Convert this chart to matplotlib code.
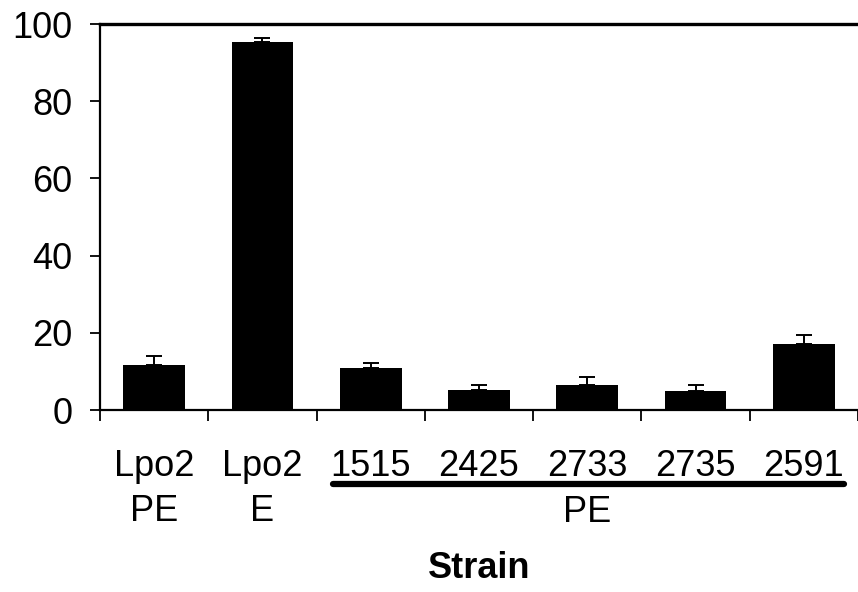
import matplotlib
matplotlib.use("Agg")
import matplotlib.pyplot as plt
import numpy as np
from matplotlib.lines import Line2D

strains = ["Lpo2\nPE", "Lpo2\nE", "1515", "2425", "2733", "2735", "2591"]
values = [11.6, 95.4, 11.0, 5.2, 6.5, 5.0, 17.2]
errors = [2.4, 0.9, 1.3, 1.3, 2.0, 1.4, 2.2]
group_label = "PE"
xlabel = "Strain"
yticks = [0, 20, 40, 60, 80, 100]

plt.rcParams['font.family'] = ['Liberation Sans', 'DejaVu Sans']

fig = plt.figure(figsize=(8.58, 5.92), dpi=100)
ax = fig.add_axes([100/858, 182/592, 758/858, 386/592])

x = np.arange(len(strains))
ax.bar(x, values, width=0.57, color="black", zorder=2)
ax.errorbar(x, values, yerr=[np.zeros(len(errors)), errors], fmt="none",
            ecolor="black", elinewidth=1.4, capsize=5.5, capthick=1.4, zorder=3)

ax.set_ylim(0, 100)
ax.set_xlim(-0.5, -0.5 + 758/109)
ax.set_yticks(yticks)
ax.set_xticks(x)
ax.set_xticklabels(strains, fontsize=26, linespacing=1.36)
ax.set_xticks(np.arange(-0.5, len(strains), 1.0), minor=True)
ax.tick_params(axis="x", which="major", length=0, pad=28)
ax.tick_params(axis="x", which="minor", length=8, width=1.3, direction="out")
ax.tick_params(axis="y", labelsize=26, length=7, width=1.3, direction="out", pad=13)

for side in ["left", "bottom"]:
    ax.spines[side].set_linewidth(1.6)
ax.spines["top"].set_linewidth(2.4)
ax.spines["right"].set_visible(False)

# underline grouping the PE strains
ax.add_line(Line2D([1.656, 6.37], [-0.1917, -0.1917], transform=ax.get_xaxis_transform(),
                   color="black", lw=4.5, clip_on=False, solid_capstyle="round"))
ax.text((2 + 6) / 2, -0.266, group_label, transform=ax.get_xaxis_transform(),
        ha="center", va="center", fontsize=26)

ax.set_xlabel(xlabel, fontsize=26, fontweight="bold", labelpad=16)

fig.savefig("out.png", dpi=100)
